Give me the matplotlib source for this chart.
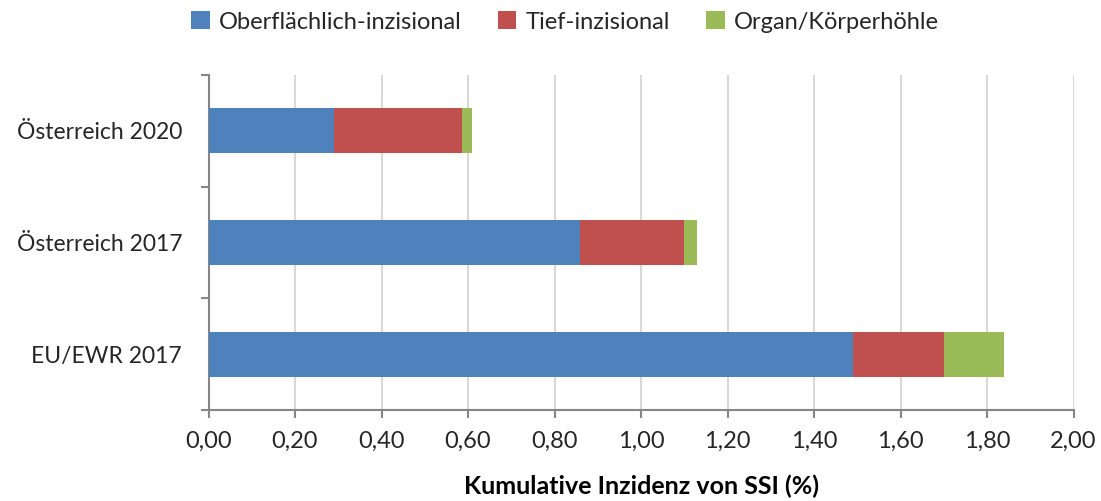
import matplotlib
matplotlib.use("Agg")
import matplotlib.pyplot as plt
import numpy as np
from matplotlib.ticker import FuncFormatter

categories = ["EU/EWR 2017", "Österreich 2017", "Österreich 2020"]
oberflaechlich = [1.49, 0.86, 0.29]
tief = [0.21, 0.24, 0.295]
organ = [0.14, 0.03, 0.025]
series_names = ["Oberflächlich-inzisional", "Tief-inzisional", "Organ/Körperhöhle"]
colors = ["#4F81BD", "#C0504D", "#9BBB59"]

plt.rcParams['font.family'] = ['Lato', 'DejaVu Sans']

fig = plt.figure(figsize=(11.01, 5.01), dpi=100)
ax = fig.add_axes([208.5/1101, 1 - 410/501, (1073.5-208.5)/1101, (410-75)/501])

y = np.arange(len(categories))
left = np.zeros(len(categories))
for vals, name, c in zip([oberflaechlich, tief, organ], series_names, colors):
    ax.barh(y, vals, left=left, height=0.4, color=c, label=name, zorder=3)
    left = left + np.array(vals)

ax.set_xlim(0, 2.0)
ax.set_ylim(-0.5, 2.5)
ax.set_xticks(np.arange(0, 2.01, 0.2))
ax.xaxis.set_major_formatter(FuncFormatter(lambda v, p: f"{v:.2f}".replace(".", ",")))
ax.set_yticks(y)
ax.set_yticklabels(categories)
ax.set_yticks([-0.5, 0.5, 1.5, 2.5], minor=True)
ax.tick_params(axis='y', which='major', length=0, pad=19, labelsize=16.5, colors='#262626')
ax.tick_params(axis='y', which='minor', length=6, color='#868686', width=1.5, direction='out')
ax.tick_params(axis='x', length=6, color='#868686', width=1.5, labelsize=17, colors='#262626', pad=9)
ax.grid(axis='x', color='#D9D9D9', linewidth=1.5, zorder=0)
for s in ['top', 'right']:
    ax.spines[s].set_visible(False)
for s in ['left', 'bottom']:
    ax.spines[s].set_color('#868686')
    ax.spines[s].set_linewidth(1.5)
ax.set_xlabel("Kumulative Inzidenz von SSI (%)", fontsize=18, fontweight='bold', color='#000000', labelpad=16)

ax.legend(loc='center', bbox_to_anchor=((565 - 208.5) / 865, 1.0 + (75 - 22) / 335), ncol=3, frameon=False,
          fontsize=17, handlelength=0.8, handleheight=0.8, handletextpad=0.4, columnspacing=1.5,
          labelcolor='#262626')

fig.savefig("out.png", dpi=100)
